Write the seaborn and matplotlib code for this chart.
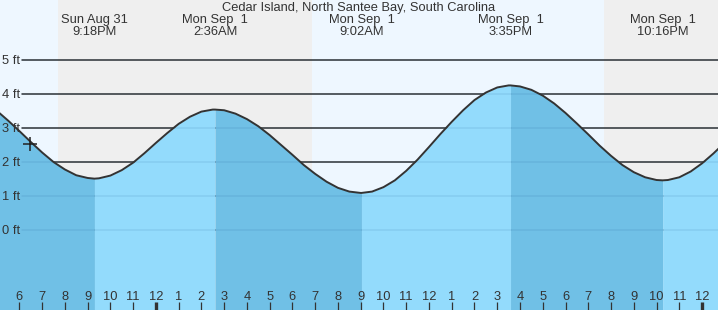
import pandas as pd
import numpy as np
import matplotlib
matplotlib.use("Agg")
import matplotlib.pyplot as plt
import matplotlib.dates as mdates
import matplotlib.transforms as mtransforms
import seaborn as sns

### DATA ###
title = "Cedar Island, North Santee Bay, South Carolina"
# tide height (ft) every 30 min, starting 5:00PM Aug 31
series_start = "2025-08-31 17:00"
tide_ft = [3.52, 3.23, 2.92, 2.60, 2.29, 2.01, 1.79, 1.62, 1.54,
           1.53, 1.61, 1.77, 1.99, 2.27, 2.57, 2.86, 3.13, 3.34, 3.49, 3.55,
           3.53, 3.43, 3.27, 3.06, 2.80, 2.51, 2.22, 1.92, 1.66, 1.43, 1.25, 1.14, 1.10,
           1.14, 1.27, 1.47, 1.75, 2.08, 2.45, 2.83, 3.19, 3.53, 3.83, 4.05, 4.20, 4.26,
           4.23, 4.13, 3.96, 3.73, 3.45, 3.14, 2.82, 2.49, 2.19, 1.92, 1.71, 1.56, 1.48,
           1.48, 1.56, 1.73, 1.97, 2.26, 2.58]
extreme_times = ["2025-08-31 21:18", "2025-09-01 02:36", "2025-09-01 09:02",
                 "2025-09-01 15:35", "2025-09-01 22:16"]
extreme_ft = [1.52, 3.55, 1.10, 4.26, 1.47]
extreme_kind = ["L", "H", "L", "H", "L"]
extreme_day = ["Sun Aug 31", "Mon Sep  1", "Mon Sep  1", "Mon Sep  1", "Mon Sep  1"]
extreme_clock = ["9:18PM", "2:36AM", "9:02AM", "3:35PM", "10:16PM"]
sunsets = ["2025-08-31 19:43", "2025-09-01 19:42"]
sunrises = ["2025-09-01 06:51", "2025-09-02 06:52"]
now_time = "2025-08-31 18:29"
now_ft = 2.55
view_start = "2025-08-31 17:09"
view_end = "2025-09-02 00:42"
hour_first = "2025-08-31 18:00"
hour_last = "2025-09-02 00:00"
y_ticks_ft = [0, 1, 2, 3, 4, 5]
y_min, y_max = -2.34, 6.77

### STYLE ###
DAY = "#eef7ff"
NIGHT = "#efefef"
WATER_RISE = "#93dbfc"
WATER_FALL = "#70c0e6"
INK = "#333333"
FS = 9.3

sns.set_style("white")
plt.rcParams['font.family'] = ['Liberation Sans', 'DejaVu Sans']

### BUILD TABLE ###
curve_df = pd.DataFrame({
    "time": pd.date_range(series_start, periods=len(tide_ft), freq="30min"),
    "height": tide_ft})
ext_df = pd.DataFrame({"time": pd.to_datetime(extreme_times), "height": extreme_ft})
tide_df = pd.concat([curve_df, ext_df]).sort_values("time").reset_index(drop=True)

x0 = mdates.date2num(pd.Timestamp(view_start))
x1 = mdates.date2num(pd.Timestamp(view_end))
tnum = mdates.date2num(tide_df["time"])
hts = tide_df["height"].to_numpy()

### PLOT ###
fig = plt.figure(figsize=(7.18, 3.10), dpi=100, facecolor=DAY)
ax = fig.add_axes([0, 0, 1, 1])
ax.set_facecolor(DAY)

for ss, sr in zip(sunsets, sunrises):
    ax.axvspan(mdates.date2num(pd.Timestamp(ss)), mdates.date2num(pd.Timestamp(sr)),
               color=NIGHT, lw=0, zorder=0)

for y in y_ticks_ft:
    ax.axhline(y, xmin=22 / 718, xmax=1, color=INK, lw=1.1, zorder=1)

# water: falling between high->low, rising between low->high
bounds = [x0 - 1] + list(mdates.date2num(ext_df["time"])) + [x1 + 1]
kinds = extreme_kind + ["H" if extreme_kind[-1] == "L" else "L"]
for i in range(len(bounds) - 1):
    m = (tnum >= bounds[i]) & (tnum <= bounds[i + 1])
    col = WATER_FALL if kinds[i] == "L" else WATER_RISE
    ax.fill_between(tnum[m], hts[m], y_min - 1, color=col, lw=0, zorder=2)

for y in y_ticks_ft:
    ax.axhline(y, xmin=22 / 718, xmax=1, color="#0a4a80", alpha=0.10, lw=1.1, zorder=3)

sns.lineplot(x=tnum, y=hts, ax=ax, color=INK, linewidth=1.4, zorder=4)
ax.plot([mdates.date2num(pd.Timestamp(now_time))], [now_ft], marker="+",
        markersize=10, mew=1.1, color="#222222", zorder=5)

ax.set_xlim(x0, x1)
ax.set_ylim(y_min, y_max)
ax.set_axis_off()

trans_y = mtransforms.blended_transform_factory(ax.transAxes, ax.transData)
for y in y_ticks_ft:
    ax.text(2 / 718, y - 0.03, f"{y} ft", transform=trans_y, ha="left", va="center",
            fontsize=FS, color=INK, zorder=6)

trans_x = ax.get_xaxis_transform()
for t, d, c in zip(ext_df["time"], extreme_day, extreme_clock):
    xt = mdates.date2num(t)
    ax.text(xt, 1 - 20 / 310, d, transform=trans_x, ha="center", va="center",
            fontsize=FS, color=INK, zorder=6)
    ax.text(xt, 1 - 32 / 310, c, transform=trans_x, ha="center", va="center",
            fontsize=FS, color=INK, zorder=6)

fig.text(0.5, 1 - 8.5 / 310, title, ha="center", va="center", fontsize=FS, color=INK)

hours = pd.date_range(hour_first, hour_last, freq="1h")
for h in hours:
    xt = mdates.date2num(h)
    lab = str(h.hour % 12 or 12)
    midnight = h.hour == 0
    ax.vlines(xt, 0, 8 / 310, transform=trans_x, color=INK,
              lw=2.4 if midnight else 0.9, zorder=6)
    ax.text(xt, 12.5 / 310, lab, transform=trans_x, ha="center", va="center",
            fontsize=FS, color=INK, zorder=6)

fig.savefig("out.png", dpi=100, facecolor=DAY)
